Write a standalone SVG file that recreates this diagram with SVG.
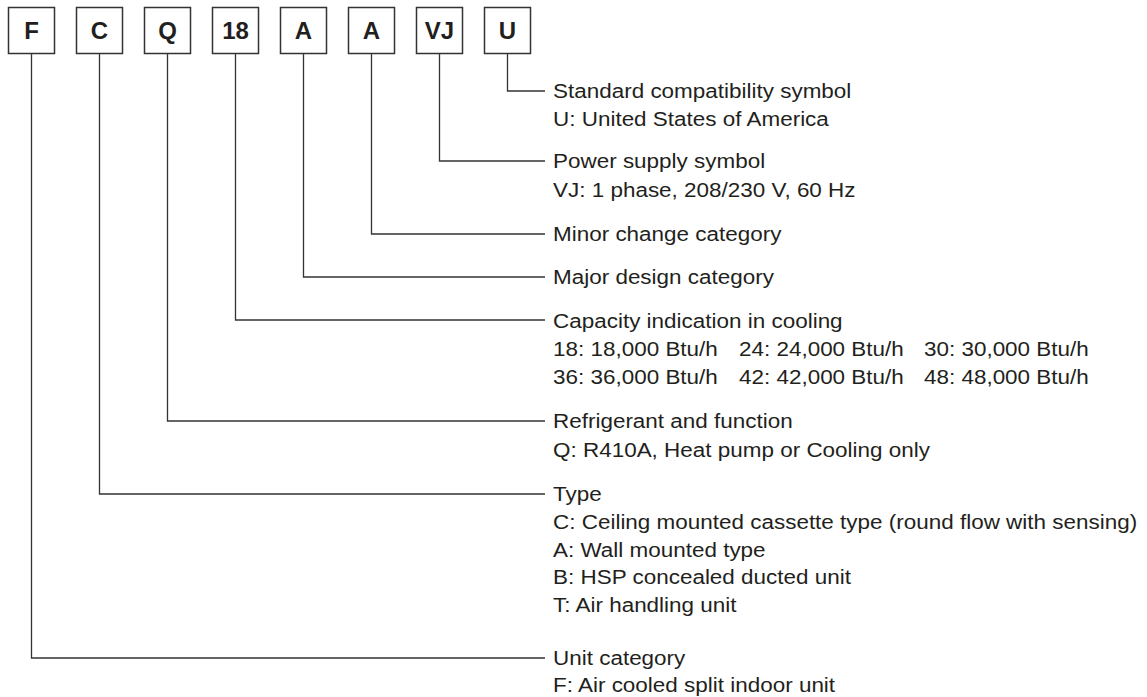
<svg xmlns="http://www.w3.org/2000/svg" width="1147" height="697" viewBox="0 0 1147 697">
<style>
.box rect{fill:#fff;stroke:#333;stroke-width:1.5}
.box text{font-family:"Liberation Sans",Arial,sans-serif;font-weight:bold;font-size:24px;fill:#231f20;text-anchor:middle}
.conn path{fill:none;stroke:#333;stroke-width:1.3}
.lbl text{font-family:"Liberation Sans",Arial,sans-serif;font-size:21px;fill:#231f20}
</style>
<rect width="1147" height="697" fill="#fff"/>
<g id="node-F" class="box"><rect x="8.5" y="7.5" width="46" height="46"/><text x="31.5" y="39">F</text></g>
<g id="node-C" class="box"><rect x="76.5" y="7.5" width="46" height="46"/><text x="99.5" y="39">C</text></g>
<g id="node-Q" class="box"><rect x="144.5" y="7.5" width="46" height="46"/><text x="167.5" y="39">Q</text></g>
<g id="node-18" class="box"><rect x="212.5" y="7.5" width="46" height="46"/><text x="235.5" y="39">18</text></g>
<g id="node-A1" class="box"><rect x="280.5" y="7.5" width="46" height="46"/><text x="303.5" y="39">A</text></g>
<g id="node-A2" class="box"><rect x="348.5" y="7.5" width="46" height="46"/><text x="371.5" y="39">A</text></g>
<g id="node-VJ" class="box"><rect x="416.5" y="7.5" width="46" height="46"/><text x="439.5" y="39">VJ</text></g>
<g id="node-U" class="box"><rect x="484.5" y="7.5" width="46" height="46"/><text x="507.5" y="39">U</text></g>
<g id="connectors" class="conn">
<path d="M507.5 53.5V91H545"/>
<path d="M439.5 53.5V161H545"/>
<path d="M371.5 53.5V234H545"/>
<path d="M303.5 53.5V277H545"/>
<path d="M235.5 53.5V320H545"/>
<path d="M167.5 53.5V421H545"/>
<path d="M99.5 53.5V494H545"/>
<path d="M31.5 53.5V658H545"/>
</g>
<g id="labels" class="lbl" transform="translate(553,0) scale(1.07,1)">
<g id="label-U"><text x="0" y="98.5">Standard compatibility symbol</text><text x="0" y="126.5">U: United States of America</text></g>
<g id="label-VJ"><text x="0" y="168.5">Power supply symbol</text><text x="0" y="197">VJ: 1 phase, 208/230 V, 60 Hz</text></g>
<g id="label-A2"><text x="0" y="241.5">Minor change category</text></g>
<g id="label-A1"><text x="0" y="284.5">Major design category</text></g>
<g id="label-18"><text x="0" y="327.5">Capacity indication in cooling</text>
<text y="356"><tspan x="0">18: 18,000 Btu/h</tspan><tspan x="173.8">24: 24,000 Btu/h</tspan><tspan x="346.7">30: 30,000 Btu/h</tspan></text>
<text y="384.5"><tspan x="0">36: 36,000 Btu/h</tspan><tspan x="173.8">42: 42,000 Btu/h</tspan><tspan x="346.7">48: 48,000 Btu/h</tspan></text></g>
<g id="label-Q"><text x="0" y="428.5">Refrigerant and function</text><text x="0" y="457">Q: R410A, Heat pump or Cooling only</text></g>
<g id="label-C"><text x="0" y="501.5">Type</text><text x="0" y="529.5">C: Ceiling mounted cassette type (round flow with sensing)</text><text x="0" y="557">A: Wall mounted type</text><text x="0" y="584.5">B: HSP concealed ducted unit</text><text x="0" y="612.5">T: Air handling unit</text></g>
<g id="label-F"><text x="0" y="665">Unit category</text><text x="0" y="692">F: Air cooled split indoor unit</text></g>
</g>
</svg>
